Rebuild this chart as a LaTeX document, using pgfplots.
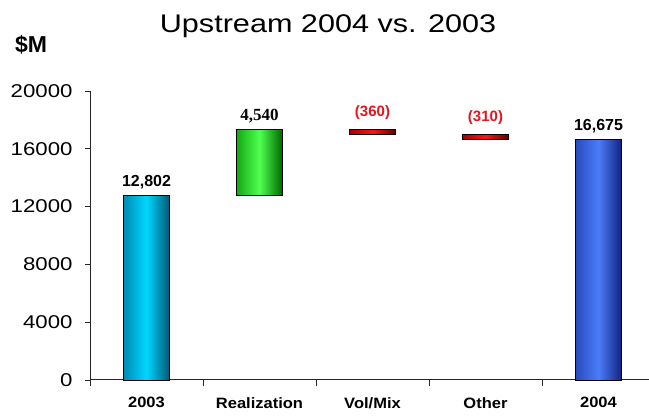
\documentclass[border=0pt]{standalone}
\usepackage{fontspec}
\setmainfont{Liberation Sans}[FakeStretch=1.2]
\newfontfamily\xfont{Liberation Sans}[FakeStretch=1.1]
\newfontfamily\numfont{Liberation Sans}
\newfontfamily\seriffont{Liberation Serif}
\usepackage{pgfplots}
\pgfplotsset{compat=1.18}
\definecolor{cyanE}{RGB}{0,90,120}
\definecolor{cyanEL}{RGB}{0,140,180}
\definecolor{cyanM}{RGB}{0,215,255}
\definecolor{greenE}{RGB}{0,105,0}
\definecolor{greenEL}{RGB}{20,170,20}
\definecolor{greenM}{RGB}{80,255,80}
\definecolor{redE}{RGB}{100,0,0}
\definecolor{redEL}{RGB}{170,0,0}
\definecolor{redM}{RGB}{255,20,20}
\definecolor{blueE}{RGB}{20,35,130}
\definecolor{blueEL}{RGB}{40,75,190}
\definecolor{blueM}{RGB}{75,125,250}
\definecolor{labred}{RGB}{230,20,30}
\begin{document}
\begin{tikzpicture}
\useasboundingbox (0,0) rectangle (649bp,418bp);
\node[anchor=base, inner sep=0, font=\fontsize{25.5bp}{28bp}\selectfont] at (328bp,385bp) {Upstream 2004 vs. 2003};
\node[anchor=base west, inner sep=0, font=\numfont\bfseries\fontsize{23bp}{26bp}\selectfont] at (15bp,365bp) {\$M};
\begin{axis}[
  at={(90bp,38bp)}, anchor=south west, scale only axis,
  width=559bp, height=289bp,
  xmin=-0.5, xmax=4.447, ymin=0, ymax=20000,
  axis lines=left,
  axis line style={-, line width=1bp, black!85},
  xtick={0,1,2,3,4},
  xticklabels={2003,Realization,Vol/Mix,Other,2004},
  minor xtick={-0.5,0.5,1.5,2.5,3.5},
  ytick={0,4000,8000,12000,16000,20000},
  scaled y ticks=false,
  tick align=outside,
  major x tick style={draw=none},
  major tick length=5bp, minor tick length=6bp,
  tick style={black!85, line width=0.8bp},
  /pgf/number format/assume math mode=true,
  /pgf/number format/1000 sep={},
  yticklabel style={font=\fontsize{18.5bp}{20bp}\selectfont, xshift=-9bp},
  xticklabel style={font=\xfont\bfseries\fontsize{15bp}{17bp}\selectfont, yshift=-9bp},
  clip=false,
]
% 2003
\addplot[draw=black, line width=0.8bp, left color=cyanEL, right color=cyanE, middle color=cyanM]
  coordinates {(-0.2,0) (-0.2,12802) (0.2,12802) (0.2,0)} -- cycle;
% Realization
\addplot[draw=black, line width=0.8bp, left color=greenEL, right color=greenE, middle color=greenM]
  coordinates {(0.8,12802) (0.8,17342) (1.2,17342) (1.2,12802)} -- cycle;
% Vol/Mix
\addplot[draw=black, line width=0.8bp, left color=redEL, right color=redE, middle color=redM]
  coordinates {(1.8,16982) (1.8,17342) (2.2,17342) (2.2,16982)} -- cycle;
% Other
\addplot[draw=black, line width=0.8bp, left color=redEL, right color=redE, middle color=redM]
  coordinates {(2.8,16672) (2.8,16982) (3.2,16982) (3.2,16672)} -- cycle;
% 2004
\addplot[draw=black, line width=0.8bp, left color=blueEL, right color=blueE, middle color=blueM]
  coordinates {(3.8,0) (3.8,16675) (4.2,16675) (4.2,0)} -- cycle;
% labels
\addplot[draw=none, only marks, mark=*, mark size=0pt, nodes near coords, point meta=explicit symbolic,
  every node near coord/.append style={font=\numfont\bfseries\fontsize{16bp}{18bp}\selectfont, anchor=south, inner sep=1bp, yshift=5bp, text=black}]
  coordinates {(0,12802) [{12,802}] (4,16675) [{16,675}]};
\addplot[draw=none, only marks, mark=*, mark size=0pt, nodes near coords, point meta=explicit symbolic,
  every node near coord/.append style={font=\seriffont\bfseries\fontsize{17bp}{19bp}\selectfont, anchor=south, inner sep=1bp, yshift=5bp, text=black}]
  coordinates {(1,17342) [{4,540}]};
\addplot[draw=none, only marks, mark=*, mark size=0pt, nodes near coords, point meta=explicit symbolic,
  every node near coord/.append style={font=\numfont\bfseries\fontsize{15bp}{17bp}\selectfont, anchor=south, inner sep=1bp, yshift=9bp, text=labred}]
  coordinates {(2,17342) [{(360)}] (3,16982) [{(310)}]};
\end{axis}
\end{tikzpicture}
\end{document}
